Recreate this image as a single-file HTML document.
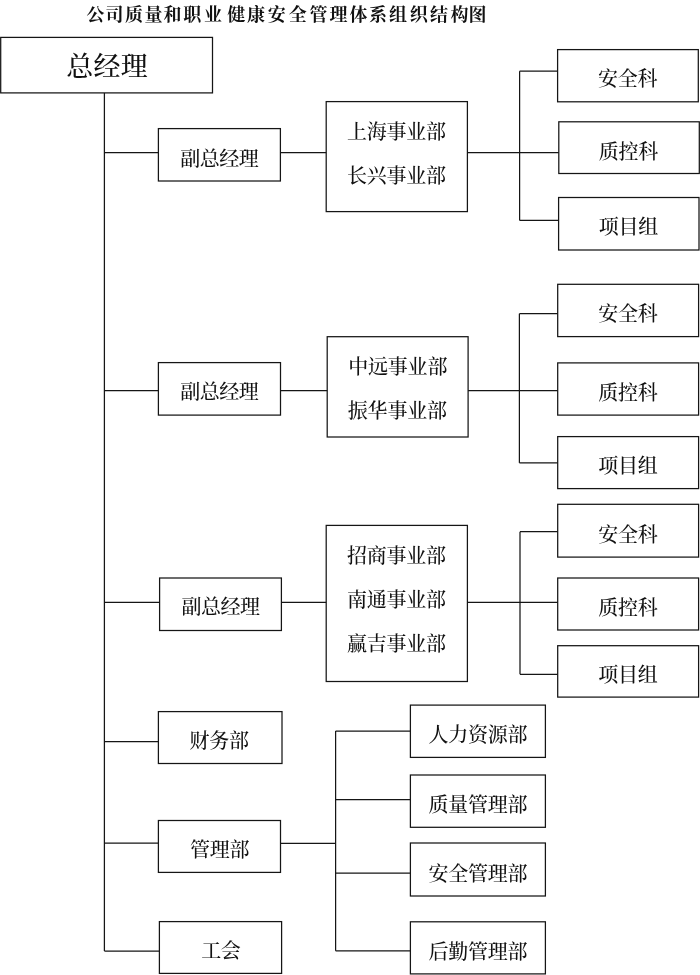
<!DOCTYPE html>
<html lang="zh-CN"><head><meta charset="utf-8"><title>公司质量和职业健康安全管理体系组织结构图</title>
<style>html,body{margin:0;padding:0;background:#fff}svg{display:block;will-change:transform}text{font-family:"Liberation Serif", "Noto Serif CJK SC", serif;fill:#111;text-anchor:middle}</style></head><body>
<svg width="700" height="975" viewBox="0 0 700 975">
<rect width="700" height="975" fill="#fff"/>
<g fill="none" stroke="#151515" stroke-width="1.25">
<rect x="0.7" y="37.4" width="211.8" height="55.5"/>
<rect x="158.4" y="128.6" width="122.0" height="52.4"/>
<rect x="158.4" y="362.6" width="122.1" height="52.5"/>
<rect x="159.6" y="578.0" width="121.8" height="52.5"/>
<rect x="158.4" y="711.6" width="123.6" height="51.9"/>
<rect x="158.4" y="820.5" width="122.1" height="51.9"/>
<rect x="159.4" y="921.6" width="122.2" height="51.8"/>
<rect x="326.2" y="101.6" width="141.2" height="110.0"/>
<rect x="327.2" y="336.7" width="140.9" height="100.3"/>
<rect x="326.2" y="525.4" width="141.2" height="156.1"/>
<rect x="557.6" y="49.6" width="140.7" height="52.2"/>
<rect x="558.8" y="121.8" width="140.5" height="51.7"/>
<rect x="558.6" y="197.5" width="140.4" height="52.5"/>
<rect x="557.7" y="284.3" width="140.9" height="52.3"/>
<rect x="557.7" y="362.9" width="140.9" height="52.2"/>
<rect x="557.7" y="436.6" width="140.9" height="52.0"/>
<rect x="557.7" y="504.3" width="140.9" height="52.8"/>
<rect x="557.7" y="578.0" width="140.9" height="52.0"/>
<rect x="557.7" y="645.7" width="140.9" height="51.4"/>
<rect x="410.4" y="705.1" width="135.0" height="52.3"/>
<rect x="410.4" y="775.0" width="135.0" height="52.3"/>
<rect x="410.4" y="843.0" width="135.0" height="53.0"/>
<rect x="410.4" y="921.8" width="135.0" height="52.1"/>
<line x1="104.4" y1="92.9" x2="104.4" y2="951.0"/>
<line x1="104.4" y1="152.5" x2="158.4" y2="152.5"/>
<line x1="104.4" y1="390.5" x2="158.4" y2="390.5"/>
<line x1="104.4" y1="602.3" x2="159.6" y2="602.3"/>
<line x1="104.4" y1="741.6" x2="158.4" y2="741.6"/>
<line x1="104.4" y1="843.0" x2="158.4" y2="843.0"/>
<line x1="104.4" y1="951.0" x2="159.4" y2="951.0"/>
<line x1="280.4" y1="152.5" x2="326.2" y2="152.5"/>
<line x1="280.5" y1="390.5" x2="327.2" y2="390.5"/>
<line x1="281.4" y1="602.3" x2="326.2" y2="602.3"/>
<line x1="467.4" y1="152.7" x2="558.8" y2="152.7"/>
<line x1="468.1" y1="390.5" x2="557.7" y2="390.5"/>
<line x1="467.4" y1="602.4" x2="557.7" y2="602.4"/>
<line x1="519.6" y1="71.2" x2="519.6" y2="220.4"/>
<line x1="519.6" y1="71.2" x2="557.6" y2="71.2"/>
<line x1="519.6" y1="220.4" x2="558.6" y2="220.4"/>
<line x1="519.4" y1="313.7" x2="519.4" y2="462.9"/>
<line x1="519.4" y1="313.7" x2="557.7" y2="313.7"/>
<line x1="519.4" y1="462.9" x2="557.7" y2="462.9"/>
<line x1="520.0" y1="531.7" x2="520.0" y2="674.3"/>
<line x1="520.0" y1="531.7" x2="557.7" y2="531.7"/>
<line x1="520.0" y1="674.3" x2="557.7" y2="674.3"/>
<line x1="280.5" y1="843.4" x2="335.6" y2="843.4"/>
<line x1="335.6" y1="731.0" x2="335.6" y2="950.8"/>
<line x1="335.6" y1="731.0" x2="410.4" y2="731.0"/>
<line x1="335.6" y1="799.5" x2="410.4" y2="799.5"/>
<line x1="335.6" y1="873.0" x2="410.4" y2="873.0"/>
<line x1="335.6" y1="950.8" x2="410.4" y2="950.8"/>
</g>
<text x="95.6 114.6 134.0 153.4 172.6 192.2 213.0 236.3 256.0 276.8 297.8 318.4 338.5 358.5 378.0 398.0 418.8 439.0 459.5 477.6" y="20.7" font-size="18" font-weight="bold">公司质量和职业健康安全管理体系组织结构图</text>
<text x="79.8 107.0 134.2" y="75.7" font-size="27" font-weight="500">总经理</text>
<text x="190.2 209.8 229.2 248.8" y="165.7" font-size="20" font-weight="500">副总经理</text>
<text x="190.2 209.8 229.2 248.8" y="399.3" font-size="20" font-weight="500">副总经理</text>
<text x="191.4 210.9 230.4 249.9" y="614.3" font-size="20" font-weight="500">副总经理</text>
<text x="199.6 219.3 239.0" y="748.3" font-size="20" font-weight="500">财务部</text>
<text x="200.0 219.7 239.4" y="856.5" font-size="20" font-weight="500">管理部</text>
<text x="211.2 230.8" y="958.3" font-size="20" font-weight="500">工会</text>
<text x="356.9 376.7 396.5 416.3 436.1" y="138.5" font-size="20" font-weight="500">上海事业部</text>
<text x="356.9 376.7 396.5 416.3 436.1" y="183.0" font-size="20" font-weight="500">长兴事业部</text>
<text x="358.2 378.0 397.8 417.6 437.4" y="373.8" font-size="20" font-weight="500">中远事业部</text>
<text x="357.8 377.6 397.4 417.2 437.0" y="418.1" font-size="20" font-weight="500">振华事业部</text>
<text x="356.9 376.7 396.5 416.3 436.1" y="562.5" font-size="20" font-weight="500">招商事业部</text>
<text x="356.9 376.7 396.5 416.3 436.1" y="607.0" font-size="20" font-weight="500">南通事业部</text>
<text x="356.9 376.7 396.5 416.3 436.1" y="651.2" font-size="20" font-weight="500">赢吉事业部</text>
<text x="608.0 627.8 647.6" y="85.9" font-size="20" font-weight="500">安全科</text>
<text x="608.7 628.5 648.3" y="158.5" font-size="20" font-weight="500">质控科</text>
<text x="608.7 628.5 648.3" y="234.2" font-size="20" font-weight="500">项目组</text>
<text x="608.2 628.0 647.8" y="321.4" font-size="20" font-weight="500">安全科</text>
<text x="608.2 628.0 647.8" y="399.5" font-size="20" font-weight="500">质控科</text>
<text x="608.2 628.0 647.8" y="472.8" font-size="20" font-weight="500">项目组</text>
<text x="608.2 628.0 647.8" y="541.6" font-size="20" font-weight="500">安全科</text>
<text x="608.2 628.0 647.8" y="614.5" font-size="20" font-weight="500">质控科</text>
<text x="608.2 628.0 647.8" y="681.9" font-size="20" font-weight="500">项目组</text>
<text x="438.4 458.2 478.0 497.8 517.6" y="742.2" font-size="20" font-weight="500">人力资源部</text>
<text x="438.4 458.2 478.0 497.8 517.6" y="811.8" font-size="20" font-weight="500">质量管理部</text>
<text x="438.4 458.2 478.0 497.8 517.6" y="880.6" font-size="20" font-weight="500">安全管理部</text>
<text x="438.4 458.2 478.0 497.8 517.6" y="958.8" font-size="20" font-weight="500">后勤管理部</text>
</svg></body></html>
